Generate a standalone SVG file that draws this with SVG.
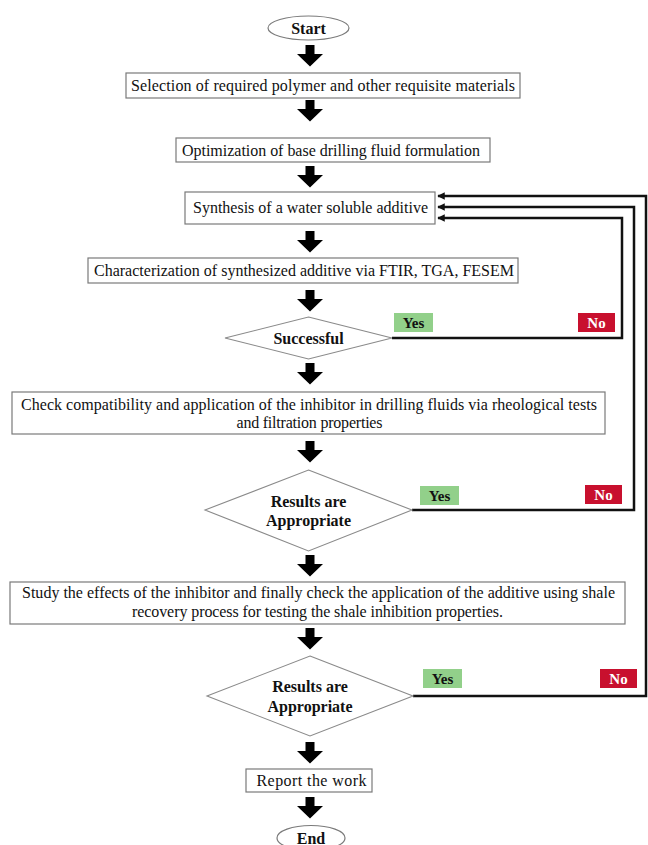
<svg xmlns="http://www.w3.org/2000/svg" width="648" height="845" viewBox="0 0 648 845">
<style>
.bg{fill:#fff}
.box{fill:#fff;stroke:#7a7a7a;stroke-width:1.2}
.dia{fill:#fff;stroke:#8a8a8a;stroke-width:1.1}
.t{font-family:"Liberation Serif","Times New Roman",serif;font-size:16px;fill:#111}
.b{font-family:"Liberation Serif","Times New Roman",serif;font-size:16px;font-weight:bold;fill:#111}
.yes{fill:#92d08a}
.no{fill:#c8102e}
.yt{font-family:"Liberation Serif","Times New Roman",serif;font-size:15px;font-weight:bold;fill:#111}
.nt{font-family:"Liberation Serif","Times New Roman",serif;font-size:15px;font-weight:bold;fill:#fff}
.con{fill:none;stroke:#111;stroke-width:2.5}
.blk{fill:#000}
</style>
<defs>
<path id="dn" d="M-4.5,0 H4.5 V9 H13 L0,21.5 L-13,9 H-4.5 Z"/>
<marker id="ah" viewBox="0 0 10 10" refX="9" refY="5" markerWidth="3" markerHeight="3" orient="auto" markerUnits="strokeWidth">
<path d="M0,0 L10,5 L0,10 Z" fill="#111"/>
</marker>
</defs>
<rect class="bg" width="648" height="845"/>

<g id="arrows" class="blk">
<use href="#dn" x="310" y="45"/>
<use href="#dn" x="310" y="100"/>
<use href="#dn" x="310" y="166"/>
<use href="#dn" x="310" y="231"/>
<use href="#dn" x="310" y="290"/>
<use href="#dn" x="310" y="363"/>
<use href="#dn" x="310" y="441"/>
<use href="#dn" x="310" y="555"/>
<use href="#dn" x="310" y="628"/>
<use href="#dn" x="310" y="742"/>
<use href="#dn" x="310" y="797"/>
</g>

<g id="connectors">
<polyline class="con" points="392,338 622,338 622,218 438,218" marker-end="url(#ah)"/>
<polyline class="con" points="412,510 634,510 634,207 438,207" marker-end="url(#ah)"/>
<polyline class="con" points="413,696 646,696 646,196 438,196" marker-end="url(#ah)"/>
</g>

<g id="start">
<ellipse class="box" cx="308.5" cy="28" rx="40.5" ry="12"/>
<text class="b" x="308.5" y="33.5" text-anchor="middle">Start</text>
</g>

<g id="n1">
<rect class="box" x="126" y="73" width="394" height="25"/>
<text class="t" x="323" y="90.5" text-anchor="middle" textLength="384" lengthAdjust="spacing">Selection of required polymer and other requisite materials</text>
</g>

<g id="n2">
<rect class="box" x="176" y="138" width="314" height="24"/>
<text class="t" x="331" y="155.5" text-anchor="middle" textLength="298" lengthAdjust="spacing">Optimization of base drilling fluid formulation</text>
</g>

<g id="n3">
<rect class="box" x="185" y="192" width="250" height="32"/>
<text class="t" x="310.5" y="213" text-anchor="middle" textLength="235" lengthAdjust="spacing">Synthesis of a water soluble additive</text>
</g>

<g id="n4">
<rect class="box" x="88" y="258" width="430" height="25"/>
<text class="t" x="304" y="276" text-anchor="middle" textLength="420" lengthAdjust="spacing">Characterization of synthesized additive via FTIR, TGA, FESEM</text>
</g>

<g id="d1">
<polygon class="dia" points="308.5,317 392,338 308.5,359 225,338"/>
<text class="b" x="308.5" y="343.5" text-anchor="middle">Successful</text>
<rect class="yes" x="394" y="313" width="39" height="19"/>
<text class="yt" x="413.5" y="327.5" text-anchor="middle">Yes</text>
<rect class="no" x="578" y="313" width="37" height="19"/>
<text class="nt" x="596.5" y="327.5" text-anchor="middle">No</text>
</g>

<g id="n5">
<rect class="box" x="12" y="392" width="593" height="42"/>
<text class="t" x="309" y="409.5" text-anchor="middle" textLength="576" lengthAdjust="spacing">Check compatibility and application of the inhibitor in drilling fluids via rheological tests</text>
<text class="t" x="309.5" y="428" text-anchor="middle" textLength="146" lengthAdjust="spacing">and filtration properties</text>
</g>

<g id="d2">
<polygon class="dia" points="308.5,470 412,510 308.5,551 205,510"/>
<text class="b" x="308.5" y="506.5" text-anchor="middle">Results are</text>
<text class="b" x="308.5" y="526" text-anchor="middle">Appropriate</text>
<rect class="yes" x="420" y="486" width="39" height="19"/>
<text class="yt" x="439.5" y="500.5" text-anchor="middle">Yes</text>
<rect class="no" x="585" y="485" width="37" height="19"/>
<text class="nt" x="603.5" y="499.5" text-anchor="middle">No</text>
</g>

<g id="n6">
<rect class="box" x="10" y="582" width="615" height="42"/>
<text class="t" x="318.5" y="598" text-anchor="middle" textLength="593" lengthAdjust="spacing">Study the effects of the inhibitor and finally check the application of the additive using shale</text>
<text class="t" x="317.5" y="617" text-anchor="middle" textLength="371" lengthAdjust="spacing">recovery process for testing the shale inhibition properties.</text>
</g>

<g id="d3">
<polygon class="dia" points="310,656 413,696 310,736 207,696"/>
<text class="b" x="310" y="692" text-anchor="middle">Results are</text>
<text class="b" x="310" y="712" text-anchor="middle">Appropriate</text>
<rect class="yes" x="423" y="669" width="39" height="19"/>
<text class="yt" x="442.5" y="683.5" text-anchor="middle">Yes</text>
<rect class="no" x="600" y="669" width="37" height="19"/>
<text class="nt" x="618.5" y="683.5" text-anchor="middle">No</text>
</g>

<g id="n7">
<rect class="box" x="246" y="769" width="126" height="23"/>
<text class="t" x="311.5" y="786" text-anchor="middle" font-size="17" textLength="110" lengthAdjust="spacing">Report the work</text>
</g>

<g id="end">
<ellipse class="box" cx="311" cy="838" rx="34" ry="12.5"/>
<text class="b" x="311" y="843.5" text-anchor="middle">End</text>
</g>
</svg>
